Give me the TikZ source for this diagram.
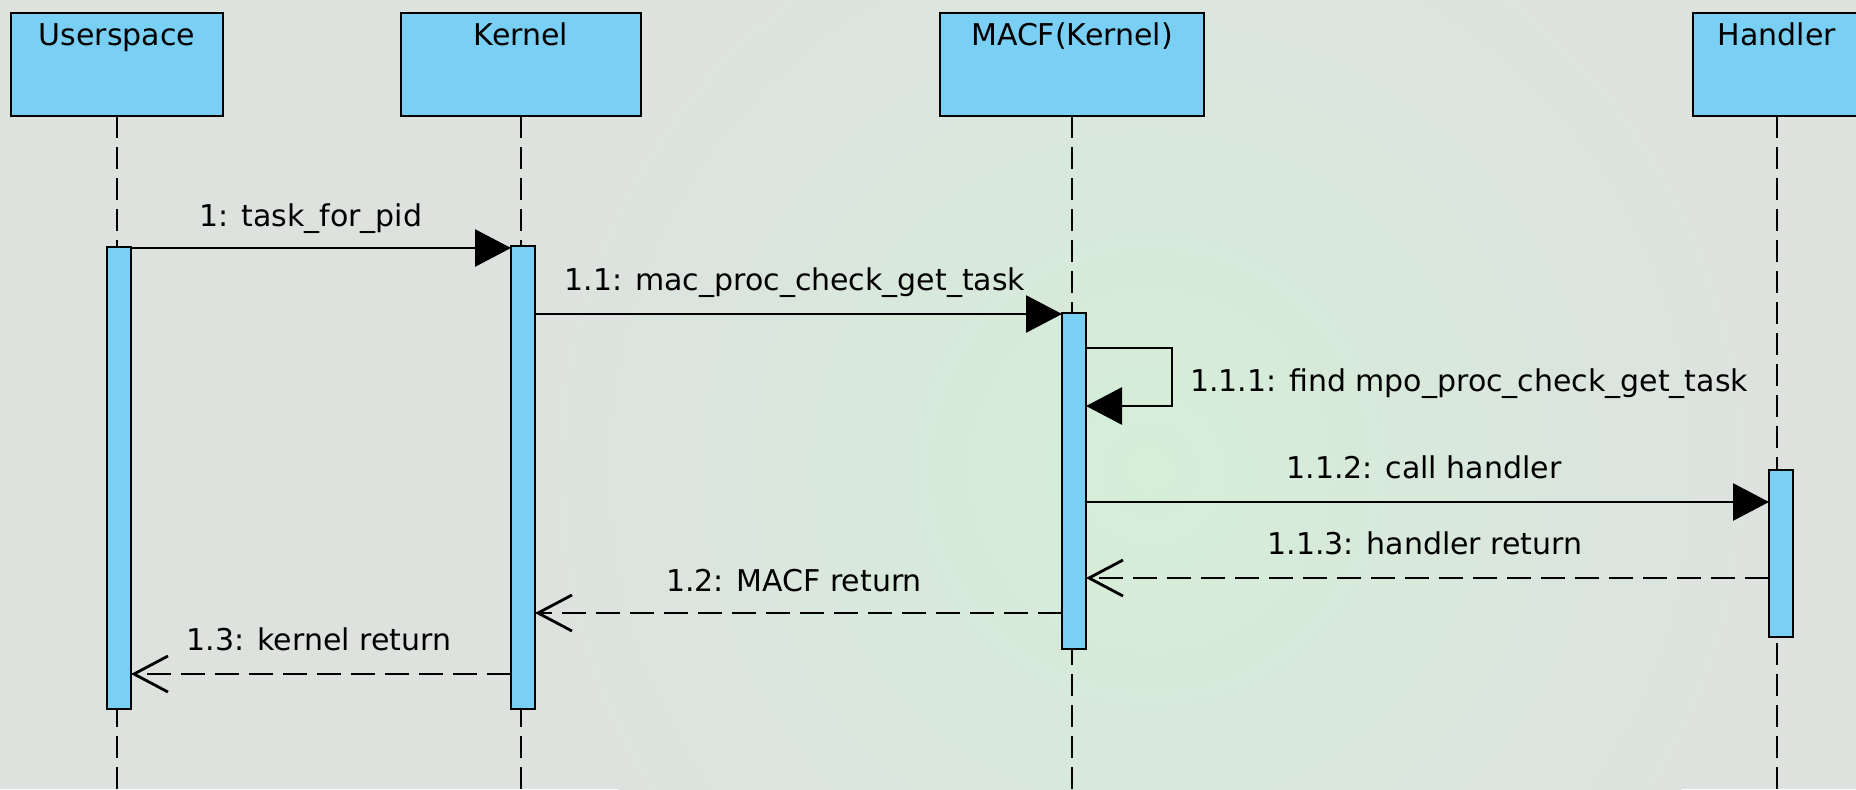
\documentclass[tikz,border=0pt]{standalone}
\usepackage{fontspec}
\setmainfont{DejaVu Sans}
\usetikzlibrary{arrows.meta}
\definecolor{bg}{RGB}{221,226,223}
\definecolor{glow}{RGB}{212,238,216}
\definecolor{boxblue}{RGB}{122,207,244}
\begin{document}
\begin{tikzpicture}[x=0.5pt,y=-0.5pt,
  font=\fontsize{15pt}{18pt}\selectfont,
  lifebox/.style={draw=black, line width=1.3pt, fill=boxblue, anchor=north west, inner sep=0pt, outer sep=0pt, minimum height=51.5pt},
  actbar/.style={draw=black, line width=1.3pt, fill=boxblue, anchor=north, inner sep=0pt, outer sep=0pt, minimum width=12pt},
  lifeline/.style={line width=1.3pt, dash pattern=on 11pt off 4.5pt},
  callmsg/.style={line width=1.4pt, -{Triangle[length=18pt,width=18.5pt]}},
  retmsg/.style={line width=1.4pt, dash pattern=on 12pt off 5pt, -{Straight Barb[length=17pt,width=18pt]}},
  lbl/.style={anchor=base, inner sep=0pt, outer sep=0pt},
  boxlbl/.style={lbl, yshift=-16pt}
]
\useasboundingbox (0,0) rectangle (1856,789);
\begin{scope}
\clip (0,0) rectangle (1856,789);
\fill[bg] (0,0) rectangle (1856,789);
\shade[inner color=glow, outer color=bg] (1150,470) circle[radius=620];

% participant boxes
\node[lifebox, minimum width=106pt, label={[boxlbl]north:Userspace}] (ubox) at (11,13) {};
\node[lifebox, minimum width=120pt, label={[boxlbl]north:Kernel}] (kbox) at (401,13) {};
\node[lifebox, minimum width=132pt, label={[boxlbl]north:MACF(Kernel)}] (mbox) at (940,13) {};
\node[lifebox, minimum width=84pt, label={[boxlbl]north:Handler}] (hbox) at (1693,13) {};

% lifelines
\coordinate (bottom) at (0,789);
\draw[lifeline] (ubox.south) -- (ubox.south |- bottom);
\draw[lifeline] (kbox.south) -- (kbox.south |- bottom);
\draw[lifeline] (mbox.south) -- (mbox.south |- bottom);
\draw[lifeline] (hbox.south) -- (hbox.south |- bottom);

% activation bars
\node[actbar, minimum height=231pt] (ubar) at (119,247) {};
\node[actbar, minimum height=231.5pt] (kbar) at (523,246) {};
\node[actbar, minimum height=168pt] (mbar) at (1074,313) {};
\node[actbar, minimum height=83.5pt] (hbar) at (1781,470) {};

% messages
\draw[callmsg] (ubar.east |- 0,248) -- (kbar.west |- 0,248);
\node[lbl] (l1) at (311,226) {1: task\_for\_pid};

\draw[callmsg] (kbar.east |- 0,314) -- (mbar.west |- 0,314);
\node[lbl] (l11) at (795,290) {1.1: mac\_proc\_check\_get\_task};

\coordinate (selfturn) at (1172,0);
\draw[callmsg] (mbar.east |- 0,348) -- (selfturn |- 0,348) -- (selfturn |- 0,406) -- (mbar.east |- 0,406);
\node[lbl, anchor=base west] (l111) at (1190,391) {1.1.1: find mpo\_proc\_check\_get\_task};

\draw[callmsg] (mbar.east |- 0,502) -- (hbar.west |- 0,502);
\node[lbl] (l112) at (1424,478) {1.1.2: call handler};

\draw[retmsg] (hbar.west |- 0,578) -- (mbar.east |- 0,578);
\node[lbl] (l113) at (1425,554) {1.1.3: handler return};

\draw[retmsg] (mbar.west |- 0,613) -- (kbar.east |- 0,613);
\node[lbl] (l12) at (794,591) {1.2: MACF return};

\draw[retmsg] (kbar.west |- 0,674) -- (ubar.east |- 0,674);
\node[lbl] (l13) at (319,650) {1.3: kernel return};
\end{scope}
\end{tikzpicture}
\end{document}
